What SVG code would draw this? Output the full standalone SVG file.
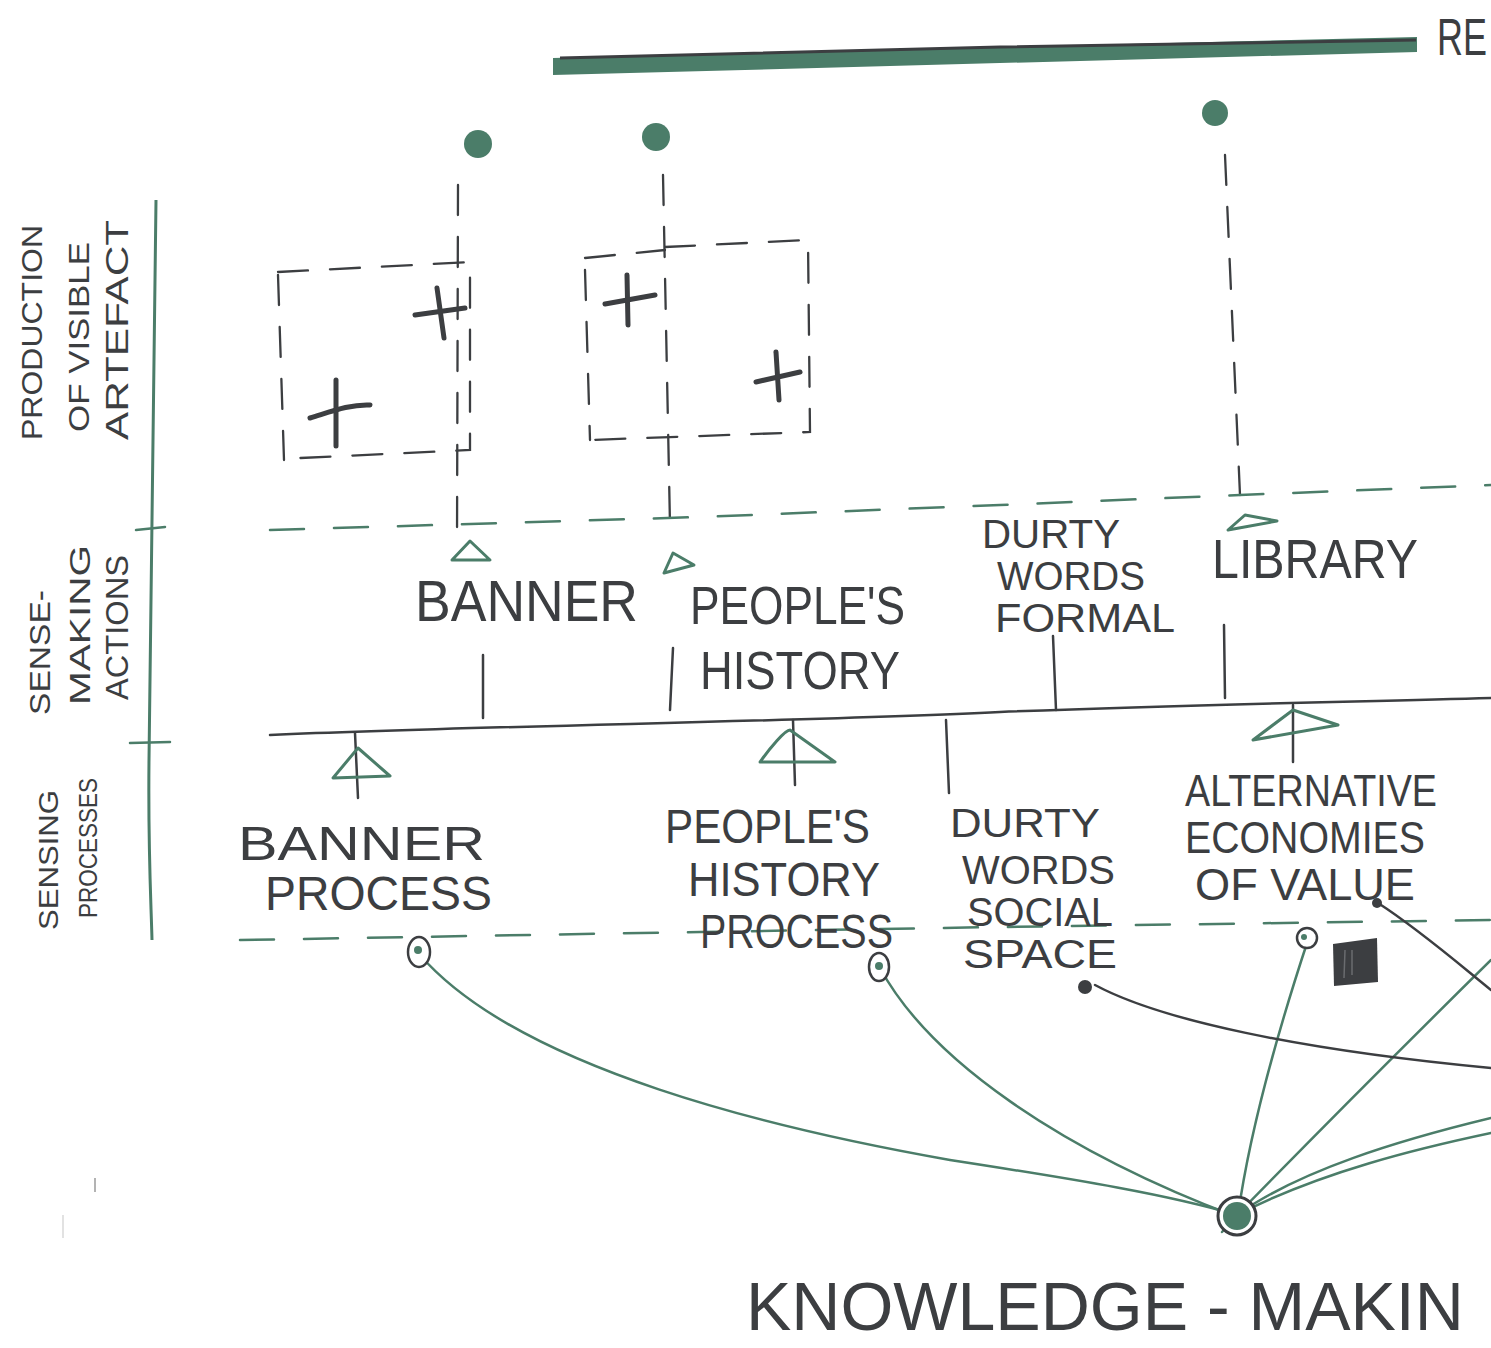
<svg xmlns="http://www.w3.org/2000/svg" width="1491" height="1348" viewBox="0 0 1491 1348">
<style>
.t{font-family:"Liberation Sans","DejaVu Sans",sans-serif;fill:#3c3e41;font-weight:normal}
.g{stroke:#4b7d69;fill:none;stroke-width:2.5;stroke-linecap:round}
.gd{stroke:#4b7d69;fill:none;stroke-width:2.5;stroke-dasharray:34 30;stroke-linecap:round}
.d{stroke:#3c3e41;fill:none;stroke-width:2.5;stroke-linecap:round}
.dd{stroke:#3c3e41;fill:none;stroke-width:2.3;stroke-dasharray:30 22;stroke-linecap:round}
.plus{stroke:#3c3e41;fill:none;stroke-width:5;stroke-linecap:round}
.tri{stroke:#4b7d69;fill:none;stroke-width:3;stroke-linejoin:round}
</style>
<rect width="1491" height="1348" fill="#ffffff"/>

<g id="header">
<polygon points="553,58 1417,37 1417,52 553,75" fill="#4b7d69"/>
<path d="M560,58 L1000,47 L1416,40" stroke="#3c3e41" stroke-width="3" fill="none"/>
<text class="t" font-size="36" transform="translate(1437,55) scale(1,1.45)">RE</text>
</g>

<g id="axis">
<path d="M156,200 C154,400 150,600 149,760 C148,850 151,900 152,940" stroke="#4b7d69" stroke-width="3" fill="none"/>
<path d="M136,530 L165,527" class="g"/>
<path d="M130,743 L170,742" class="g"/>
<text class="t" font-size="29" transform="translate(42,440) rotate(-90)" textLength="215" lengthAdjust="spacingAndGlyphs">PRODUCTION</text>
<text class="t" font-size="29" transform="translate(89,432) rotate(-90)" textLength="190" lengthAdjust="spacingAndGlyphs">OF VISIBLE</text>
<text class="t" font-size="32" transform="translate(128,440) rotate(-90)" textLength="220" lengthAdjust="spacingAndGlyphs">ARTEFACT</text>
<text class="t" font-size="30" transform="translate(50,715) rotate(-90)" textLength="125" lengthAdjust="spacingAndGlyphs">SENSE-</text>
<text class="t" font-size="30" transform="translate(90,705) rotate(-90)" textLength="160" lengthAdjust="spacingAndGlyphs">MAKING</text>
<text class="t" font-size="32" transform="translate(128,700) rotate(-90)" textLength="145" lengthAdjust="spacingAndGlyphs">ACTIONS</text>
<text class="t" font-size="27" transform="translate(58,930) rotate(-90)" textLength="140" lengthAdjust="spacingAndGlyphs">SENSING</text>
<text class="t" font-size="25" transform="translate(97,918) rotate(-90)" textLength="140" lengthAdjust="spacingAndGlyphs">PROCESSES</text>
</g>

<g id="artefacts">
<circle cx="478" cy="144" r="14" fill="#4b7d69"/>
<circle cx="656" cy="137" r="14" fill="#4b7d69"/>
<circle cx="1215" cy="113" r="13" fill="#4b7d69"/>
<path d="M458,185 L457,545" class="dd"/>
<path d="M663,175 L670,525" class="dd"/>
<path d="M1225,155 L1240,495" class="dd"/>
<path d="M278,275 L284,460" class="dd"/>
<path d="M278,272 L470,262 L470,450 L300,458" class="dd"/>
<path d="M585,258 L665,250" class="dd"/>
<path d="M665,247 L808,240 L810,432 L590,440" class="dd"/>
<path d="M585,270 L590,440" class="dd"/>
<path d="M437,288 L444,338" class="plus"/>
<path d="M415,315 L465,308" class="plus"/>
<path d="M336,380 L336,446" class="plus"/>
<path d="M310,418 C330,412 350,404 370,405" class="plus"/>
<path d="M627,275 L628,325" class="plus"/>
<path d="M605,304 L655,295" class="plus"/>
<path d="M776,352 L779,400" class="plus"/>
<path d="M756,382 L800,372" class="plus"/>
</g>

<g id="sense-making">
<path d="M270,530 L700,517 L1000,505 L1240,495 L1491,485" class="gd"/>
<path d="M452,560 L470,541 L490,560 Z" class="tri"/>
<path d="M664,573 L673,553 L694,565 Z" class="tri"/>
<path d="M1228,530 L1245,515 L1277,521 Z" class="tri"/>
<text class="t" x="415" y="621" font-size="58" textLength="223" lengthAdjust="spacingAndGlyphs">BANNER</text>
<text class="t" x="690" y="624" font-size="54" textLength="215" lengthAdjust="spacingAndGlyphs">PEOPLE'S</text>
<text class="t" x="700" y="689" font-size="54" textLength="200" lengthAdjust="spacingAndGlyphs">HISTORY</text>
<text class="t" x="982" y="548" font-size="40" textLength="138" lengthAdjust="spacingAndGlyphs">DURTY</text>
<text class="t" x="997" y="590" font-size="40" textLength="148" lengthAdjust="spacingAndGlyphs">WORDS</text>
<text class="t" x="995" y="632" font-size="40" textLength="180" lengthAdjust="spacingAndGlyphs">FORMAL</text>
<text class="t" x="1212" y="578" font-size="56" textLength="206" lengthAdjust="spacingAndGlyphs">LIBRARY</text>
</g>

<g id="connectors">
<path d="M483,655 L483,718" class="d"/>
<path d="M673,648 L670,710" class="d"/>
<path d="M1053,636 L1056,710" class="d"/>
<path d="M1224,625 L1225,698" class="d"/>
<path d="M270,735 C500,725 800,722 1000,712 C1200,704 1350,702 1491,698" class="d"/>
<path d="M355,733 L358,798" class="d"/>
<path d="M793,720 L795,785" class="d"/>
<path d="M946,720 L949,793" class="d"/>
<path d="M1293,705 L1293,762" class="d"/>
<path d="M333,778 L358,748 L390,776 Z" class="tri"/>
<path d="M760,762 C770,748 785,730 790,730 L835,762 Z" class="tri"/>
<path d="M1253,740 L1293,710 L1338,725 Z" class="tri"/>
<path d="M240,940 L700,932 L1000,927 L1491,920" class="gd"/>
<path d="M420,955 C520,1070 780,1130 950,1160 C1080,1180 1170,1195 1237,1215" class="g"/>
<path d="M880,968 C930,1060 1060,1150 1237,1217" class="g"/>
<path d="M1308,940 C1275,1040 1250,1130 1238,1215" class="g"/>
<path d="M1237,1215 C1320,1130 1420,1030 1491,960" class="g"/>
<path d="M1237,1215 C1300,1170 1400,1140 1491,1118" class="g"/>
<path d="M1237,1215 C1320,1172 1420,1148 1491,1133" class="g"/>
<path d="M1222,1232 L1240,1212" class="g"/>
<path d="M1095,985 C1160,1020 1300,1050 1491,1068" class="d"/>
<path d="M1378,903 C1420,930 1460,965 1491,990" class="d"/>
</g>

<g id="sensing">
<text class="t" x="238" y="860" font-size="48" textLength="247" lengthAdjust="spacingAndGlyphs">BANNER</text>
<text class="t" x="265" y="910" font-size="48" textLength="227" lengthAdjust="spacingAndGlyphs">PROCESS</text>
<text class="t" x="665" y="843" font-size="48" textLength="205" lengthAdjust="spacingAndGlyphs">PEOPLE'S</text>
<text class="t" x="688" y="896" font-size="48" textLength="192" lengthAdjust="spacingAndGlyphs">HISTORY</text>
<text class="t" x="700" y="948" font-size="48" textLength="193" lengthAdjust="spacingAndGlyphs">PROCESS</text>
<text class="t" x="950" y="837" font-size="40" textLength="150" lengthAdjust="spacingAndGlyphs">DURTY</text>
<text class="t" x="962" y="884" font-size="40" textLength="153" lengthAdjust="spacingAndGlyphs">WORDS</text>
<text class="t" x="967" y="926" font-size="40" textLength="146" lengthAdjust="spacingAndGlyphs">SOCIAL</text>
<text class="t" x="963" y="968" font-size="40" textLength="154" lengthAdjust="spacingAndGlyphs">SPACE</text>
<text class="t" x="1185" y="806" font-size="44" textLength="252" lengthAdjust="spacingAndGlyphs">ALTERNATIVE</text>
<text class="t" x="1185" y="853" font-size="44" textLength="240" lengthAdjust="spacingAndGlyphs">ECONOMIES</text>
<text class="t" x="1195" y="900" font-size="44" textLength="220" lengthAdjust="spacingAndGlyphs">OF VALUE</text>
</g>

<g id="points">
<ellipse cx="419" cy="952" rx="11" ry="15" fill="#fff" stroke="#3c3e41" stroke-width="2.5"/>
<circle cx="418" cy="950" r="4" fill="#4b7d69"/>
<ellipse cx="879" cy="967" rx="10" ry="14" fill="#fff" stroke="#3c3e41" stroke-width="2.5"/>
<circle cx="879" cy="966" r="4" fill="#4b7d69"/>
<circle cx="1307" cy="938" r="10" fill="#fff" stroke="#3c3e41" stroke-width="2.5"/>
<circle cx="1304" cy="937" r="3" fill="#4b7d69"/>
<circle cx="1085" cy="987" r="7" fill="#3c3e41"/>
<circle cx="1377" cy="903" r="5" fill="#3c3e41"/>
<path d="M1333,944 L1377,938 L1378,982 L1334,986 Z" fill="#3c3e41"/>
<path d="M1345,950 L1344,978 M1352,950 L1352,975" stroke="#6a6c6f" stroke-width="1.5"/>
</g>

<g id="knowledge-making">
<circle cx="1237" cy="1216" r="19" fill="#fff" stroke="#3c3e41" stroke-width="3"/>
<circle cx="1237" cy="1216" r="14" fill="#4b7d69"/>
<text class="t" x="746" y="1330" font-size="68">KNOWLEDGE - MAKIN</text>
</g>

<g id="marks">
<path d="M95,1178 L95,1192" stroke="#9a9a9a" stroke-width="1.5"/>
<path d="M63,1215 L63,1238" stroke="#d8d8d8" stroke-width="1.5"/>
</g>
</svg>
